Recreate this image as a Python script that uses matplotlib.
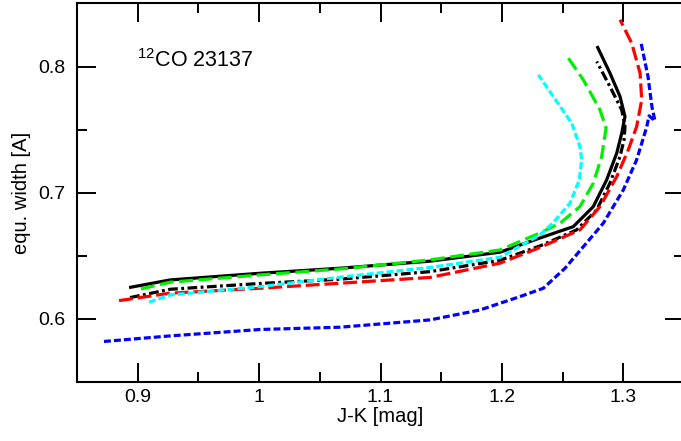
import matplotlib
matplotlib.use("Agg")
import matplotlib.pyplot as plt

# J-K colour vs equivalent width
black_x = [0.8942, 0.9266, 1.0007, 1.0666, 1.1408, 1.1984, 1.2314, 1.2588, 1.2753,
           1.2863, 1.2946, 1.2987, 1.3014, 1.2973, 1.2890, 1.2789]
black_y = [0.6249, 0.6307, 0.6360, 0.6400, 0.6456, 0.6527, 0.6640, 0.6730, 0.6889,
           0.7101, 0.7313, 0.7471, 0.7603, 0.7762, 0.7948, 0.8151]

dashdot_x = [0.8937, 0.9266, 1.0007, 1.0666, 1.1408, 1.1984, 1.2314, 1.2616, 1.2781,
             1.2890, 1.2973, 1.3006, 1.3014, 1.2987, 1.2890, 1.2781]
dashdot_y = [0.6167, 0.6233, 0.6279, 0.6313, 0.6373, 0.6463, 0.6577, 0.6704, 0.6863,
             0.7075, 0.7286, 0.7418, 0.7524, 0.7656, 0.7841, 0.8040]

red_x = [0.8846, 0.9266, 1.0007, 1.0666, 1.1408, 1.1984, 1.2314, 1.2643, 1.2808,
         1.2946, 1.3041, 1.3110, 1.3152, 1.3138, 1.3069, 1.2973]
red_y = [0.6143, 0.6202, 0.6241, 0.6281, 0.6327, 0.6440, 0.6565, 0.6704, 0.6889,
         0.7127, 0.7339, 0.7524, 0.7736, 0.7948, 0.8186, 0.8371]

green_x = [0.9027, 0.9266, 1.0007, 1.0666, 1.1408, 1.1984, 1.2314, 1.2479, 1.2643,
           1.2753, 1.2822, 1.2858, 1.2808, 1.2671, 1.2547]
green_y = [0.6236, 0.6289, 0.6347, 0.6394, 0.6466, 0.6545, 0.6680, 0.6757, 0.6889,
           0.7075, 0.7286, 0.7511, 0.7656, 0.7894, 0.8067]

cyan_x = [0.9093, 0.9266, 1.0007, 1.0666, 1.1408, 1.1984, 1.2314, 1.2421, 1.2561,
          1.2638, 1.2657, 1.2643, 1.2575, 1.2423, 1.2300]
cyan_y = [0.6130, 0.6188, 0.6254, 0.6329, 0.6406, 0.6487, 0.6664, 0.6760, 0.6916,
          0.7101, 0.7260, 0.7365, 0.7551, 0.7762, 0.7934]

blue_x = [0.8722, 0.9266, 1.0007, 1.0666, 1.1408, 1.1820, 1.2149, 1.2341, 1.2520,
          1.2671, 1.2835, 1.3000, 1.3110, 1.3193, 1.3212, 1.3261, 1.3236, 1.3204, 1.3146]
blue_y = [0.5819, 0.5863, 0.5914, 0.5932, 0.5990, 0.6069, 0.6175, 0.6241, 0.6400,
          0.6571, 0.6757, 0.7021, 0.7260, 0.7521, 0.7609, 0.7569, 0.7680, 0.7918, 0.8188]

label = "$^{12}$CO 23137"

plt.rcParams['font.family'] = ['Liberation Sans', 'DejaVu Sans']
plt.rcParams['mathtext.fontset'] = 'custom'
plt.rcParams['mathtext.rm'] = 'Liberation Sans'
plt.rcParams['mathtext.it'] = 'Liberation Sans'
plt.rcParams['lines.scale_dashes'] = False

fig = plt.figure(figsize=(6.81, 4.41), dpi=100)
ax = fig.add_axes([0.1131, 0.1345, 0.8913, 0.8576])

lw = 2.3
ax.plot(black_x, black_y, color='black', lw=lw)
ax.plot(dashdot_x, dashdot_y, color='black', lw=lw, dashes=(7, 2.5, 2, 2.5))
ax.plot(red_x, red_y, color='#ff0000', lw=lw, dashes=(10, 3.5))
ax.plot(green_x, green_y, color='#00ee00', lw=lw, dashes=(10, 4))
ax.plot(cyan_x, cyan_y, color='#00ffff', lw=lw, dashes=(5, 2.2))
ax.plot(blue_x, blue_y, color='#0000ff', lw=lw, dashes=(5, 2.2))

ax.text(0.899, 0.800, label, fontsize=15.5, va='baseline', ha='left')

ax.set_xlim(0.85, 1.35)
ax.set_ylim(0.55, 0.85)
ax.set_xticks([0.9, 1.0, 1.1, 1.2, 1.3])
ax.set_xticklabels(['0.9', '1', '1.1', '1.2', '1.3'])
ax.set_xticks([0.95, 1.05, 1.15, 1.25], minor=True)
ax.set_yticks([0.6, 0.7, 0.8])
ax.set_yticklabels(['0.6', '0.7', '0.8'])
ax.set_yticks([0.65, 0.75], minor=True)

ax.tick_params(which='both', direction='in', top=True, right=True, width=1.4, labelsize=14)
ax.tick_params(which='major', length=13.7)
ax.tick_params(which='minor', length=7.2)
ax.tick_params(axis='x', pad=5)
ax.tick_params(axis='y', pad=8.5)
for s in ax.spines.values():
    s.set_linewidth(1.5)

ax.set_xlabel('J-K [mag]', fontsize=14.5, labelpad=1)
ax.set_ylabel('equ. width [A]', fontsize=14.5, labelpad=5)

fig.savefig('out.png', dpi=100)
